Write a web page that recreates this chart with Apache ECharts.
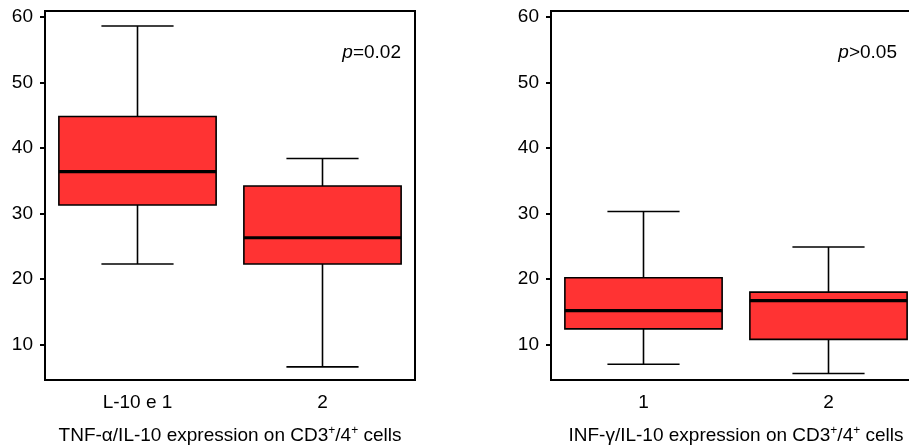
<!DOCTYPE html>
<html>
<head>
<meta charset="utf-8">
<script src="https://cdn.jsdelivr.net/npm/echarts@6/dist/echarts.min.js"></script>
<style>
html, body { margin: 0; padding: 0; background: #fff; }
#main { width: 909px; height: 446px; }
</style>
</head>
<body>
<div id="main"></div>
<script>
// categories
var tnfCategories = ['L-10 e 1', '2'];
var infCategories = ['1', '2'];
// box values: [min, Q1, median, Q3, max]
var tnfBoxes = [
    [22.3, 31.3, 36.4, 44.8, 58.6],
    [6.6, 22.3, 26.3, 34.2, 38.4]
];
var infBoxes = [
    [7.0, 12.4, 15.2, 20.2, 30.3],
    [5.6, 10.8, 16.7, 18.0, 24.9]
];
var yTicks = [10, 20, 30, 40, 50, 60];
var pTexts = ['=0.02', '>0.05'];

var FONT = 'Liberation Sans, Arial, sans-serif';
var RED = '#FF3333';

function toRows(boxes) {
    return boxes.map(function (b, i) { return [i].concat(b); });
}

function renderBox(params, api) {
    var x = api.value(0);
    var lo = api.coord([x, api.value(1)]);
    var q1 = api.coord([x, api.value(2)]);
    var md = api.coord([x, api.value(3)]);
    var q3 = api.coord([x, api.value(4)]);
    var hi = api.coord([x, api.value(5)]);
    var band = api.size([1, 0])[0];
    var bw = band * 0.85;     // box width
    var cw = band * 0.39;     // whisker cap width
    var cx = lo[0];
    var ln = { stroke: '#000', lineWidth: 1.6 };
    return {
        type: 'group',
        children: [
            { type: 'line', shape: { x1: cx, y1: hi[1], x2: cx, y2: q3[1] }, style: ln },
            { type: 'line', shape: { x1: cx, y1: q1[1], x2: cx, y2: lo[1] }, style: ln },
            { type: 'line', shape: { x1: cx - cw / 2, y1: hi[1], x2: cx + cw / 2, y2: hi[1] }, style: ln },
            { type: 'line', shape: { x1: cx - cw / 2, y1: lo[1], x2: cx + cw / 2, y2: lo[1] }, style: ln },
            { type: 'rect', shape: { x: cx - bw / 2, y: q3[1], width: bw, height: q1[1] - q3[1] },
              style: { fill: RED, stroke: '#000', lineWidth: 1.6 } },
            { type: 'line', shape: { x1: cx - bw / 2, y1: md[1], x2: cx + bw / 2, y2: md[1] },
              style: { stroke: '#000', lineWidth: 3.2 } }
        ]
    };
}

function xAxisOf(idx, cats, name) {
    return {
        type: 'category',
        gridIndex: idx,
        data: cats,
        boundaryGap: true,
        name: name,
        nameLocation: 'middle',
        nameGap: 45,
        nameTextStyle: {
            color: '#000', fontSize: 19, fontFamily: FONT,
            rich: {
                s: { fontSize: 12, fontFamily: FONT, color: '#000', verticalAlign: 'top', padding: [0, 0, 10, 0] }
            }
        },
        axisLine: { lineStyle: { color: '#000', width: 2 } },
        axisTick: { alignWithLabel: true, length: 5, lineStyle: { color: '#000', width: 2 } },
        axisLabel: { color: '#000', fontSize: 19, fontFamily: FONT, margin: 13 },
        splitLine: { show: false }
    };
}

function yAxisOf(idx) {
    return {
        type: 'value',
        gridIndex: idx,
        min: 4.6,
        max: 60.9,
        axisLine: { show: true, lineStyle: { color: '#000', width: 2 } },
        axisTick: { show: true, length: 5, customValues: yTicks, lineStyle: { color: '#000', width: 2 } },
        axisLabel: { color: '#000', fontSize: 19, fontFamily: FONT, margin: 12, customValues: yTicks },
        splitLine: { show: false }
    };
}

function pText(x, txt) {
    return {
        type: 'text',
        x: x,
        y: 53,
        style: {
            text: '{i|p}' + txt,
            align: 'right',
            verticalAlign: 'middle',
            fill: '#000',
            fontSize: 19,
            fontFamily: FONT,
            rich: {
                i: { fontStyle: 'italic', fontSize: 19, fontFamily: FONT, fill: '#000' }
            }
        }
    };
}

var chart = echarts.init(document.getElementById('main'));
chart.setOption({
    backgroundColor: '#fff',
    animation: false,
    grid: [
        { left: 45, top: 11, width: 370, height: 369, outerBoundsMode: 'none', containLabel: false,
          show: true, borderColor: '#000', borderWidth: 2, backgroundColor: 'transparent' },
        { left: 551, top: 11, width: 370, height: 369, outerBoundsMode: 'none', containLabel: false,
          show: true, borderColor: '#000', borderWidth: 2, backgroundColor: 'transparent' }
    ],
    xAxis: [
        xAxisOf(0, tnfCategories, 'TNF-\u03b1/IL-10 expression on CD3{s|+}/4{s|+} cells'),
        xAxisOf(1, infCategories, 'INF-\u03b3/IL-10 expression on CD3{s|+}/4{s|+} cells')
    ],
    yAxis: [yAxisOf(0), yAxisOf(1)],
    graphic: [pText(401, pTexts[0]), pText(897, pTexts[1])],
    series: [
        {
            type: 'custom',
            xAxisIndex: 0, yAxisIndex: 0,
            renderItem: renderBox,
            encode: { x: 0, y: [1, 2, 3, 4, 5] },
            data: toRows(tnfBoxes)
        },
        {
            type: 'custom',
            xAxisIndex: 1, yAxisIndex: 1,
            renderItem: renderBox,
            encode: { x: 0, y: [1, 2, 3, 4, 5] },
            data: toRows(infBoxes)
        }
    ]
});
</script>
</body>
</html>
